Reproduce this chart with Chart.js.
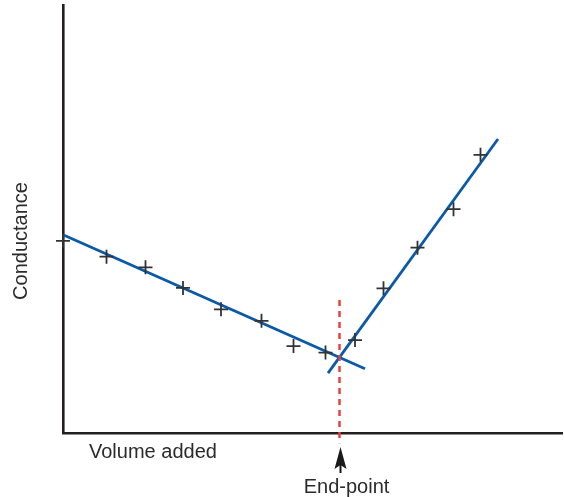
<!DOCTYPE html>
<html>
<head>
<meta charset="utf-8">
<script src="https://cdn.jsdelivr.net/npm/chart.js@4"></script>
<style>
  html, body { margin: 0; padding: 0; background: #fff; }
  #wrap { width: 564px; height: 497px; }
</style>
</head>
<body>
<div id="wrap"><canvas id="chart"></canvas></div>
<script>
// measured points (volume added, conductance) - arbitrary units
const volume      = [0, 0.87, 1.65, 2.4, 3.16, 3.97, 4.61, 5.25, 5.84, 6.41, 7.09, 7.81, 8.35];
const conductance = [4.49, 4.12, 3.87, 3.39, 2.89, 2.62, 2.03, 1.88, 2.17, 3.38, 4.33, 5.23, 6.5];

// fitted lines (end points)
const fitBeforeX = [0, 6.04];
const fitBeforeY = [4.63, 1.50];
const fitAfterX  = [5.30, 8.70];
const fitAfterY  = [1.40, 6.87];

// end-point marker
const endPoint = 5.53;
const endPointLineY = [3.11, -0.24];

const xLabel = "Volume added";
const yLabel = "Conductance";
const endLabel = "End-point";

const zip = (xs, ys) => xs.map((x, i) => ({x: x, y: ys[i]}));

const textColor = "#2b2b2b";
const axisColor = "#231f20";
const blue = "#0a5aa8";

const annotations = {
    id: "annotations",
    afterDraw(chart) {
        const ctx = chart.ctx;
        const xs = chart.scales.x;
        const area = chart.chartArea;
        const ex = xs.getPixelForValue(endPoint);
        ctx.save();
        ctx.fillStyle = textColor;
        ctx.font = "20px 'Liberation Sans', Arial, sans-serif";
        ctx.textBaseline = "alphabetic";

        // x title
        ctx.textAlign = "left";
        ctx.fillText(xLabel, area.left + 26, area.bottom + 25);

        // end-point label and arrow
        ctx.textAlign = "center";
        ctx.fillText(endLabel, ex + 7, area.bottom + 60);
        ctx.fillStyle = "#1a1a1a";
        ctx.beginPath();
        ctx.moveTo(ex + 1, area.bottom + 14);
        ctx.lineTo(ex + 7, area.bottom + 36);
        ctx.lineTo(ex + 1, area.bottom + 32);
        ctx.lineTo(ex - 5, area.bottom + 36);
        ctx.closePath();
        ctx.fill();
        ctx.fillRect(ex, area.bottom + 30, 2, 10);

        // y title
        ctx.fillStyle = textColor;
        ctx.translate(27, 241);
        ctx.rotate(-Math.PI / 2);
        ctx.textAlign = "center";
        ctx.fillText(yLabel, 0, 0);
        ctx.restore();
    }
};

new Chart(document.getElementById("chart").getContext("2d"), {
    type: 'scatter',
    data: {
        datasets: [{
            label: "before",
            type: 'line',
            data: zip(fitBeforeX, fitBeforeY),
            borderColor: blue,
            borderWidth: 2.8,
            pointRadius: 0,
            fill: false,
            order: 3,
        },{
            label: "after",
            type: 'line',
            data: zip(fitAfterX, fitAfterY),
            borderColor: blue,
            borderWidth: 2.8,
            pointRadius: 0,
            fill: false,
            order: 3,
        },{
            label: "end-point",
            type: 'line',
            data: zip([endPoint, endPoint], endPointLineY),
            borderColor: "#e8403f",
            borderWidth: 2.5,
            borderDash: [6, 5],
            pointRadius: 0,
            fill: false,
            clip: false,
            order: 2,
        },{
            label: "measured",
            data: zip(volume, conductance),
            pointStyle: 'cross',
            radius: 7,
            borderWidth: 1.8,
            borderColor: "#333333",
            backgroundColor: "#333333",
            clip: false,
            order: 1,
        }]
    },
    options: {
        responsive: true,
        maintainAspectRatio: false,
        animation: false,
        layout: {
            autoPadding: false,
            padding: {left: 63, top: 5, right: 2, bottom: 64}
        },
        plugins: {
            legend: { display: false },
            tooltip: { enabled: false },
        },
        scales: {
            x: {
                type: 'linear',
                min: 0,
                max: 9.98,
                ticks: { display: false },
                grid: { display: false, drawTicks: false },
                border: { display: true, color: axisColor, width: 2.6 },
            },
            y: {
                type: 'linear',
                min: 0,
                max: 10,
                ticks: { display: false },
                grid: { display: false, drawTicks: false },
                border: { display: true, color: axisColor, width: 2.6 },
            }
        }
    },
    plugins: [annotations]
});
</script>
</body>
</html>
